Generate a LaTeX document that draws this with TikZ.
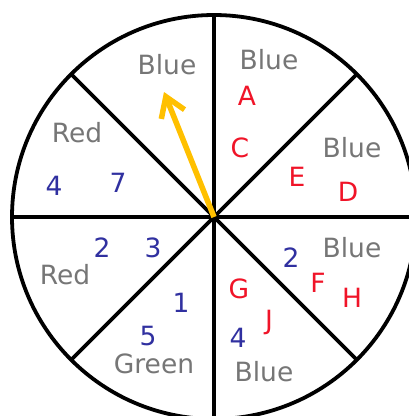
\documentclass[tikz,border=0pt]{standalone}
\usepackage{fontspec}
\setmainfont{DejaVu Sans}
\usetikzlibrary{arrows.meta}
\definecolor{lblgray}{RGB}{118,118,118}
\definecolor{lblred}{RGB}{240,20,40}
\definecolor{lblblue}{RGB}{48,48,160}
\definecolor{arrowyellow}{RGB}{255,192,0}
\tikzset{
  wheelline/.style={line width=3.8pt, black},
  lbl/.style={inner sep=0pt, anchor=base, font=\fontsize{26.5}{26.5}\selectfont},
  colname/.style={lbl, text=lblgray},
  letter/.style={lbl, text=lblred},
  numb/.style={lbl, text=lblblue},
  pointer/.style={line width=5.5pt, arrowyellow, -{Straight Barb[length=19pt,width=25pt]}}
}
\begin{document}
\begin{tikzpicture}[x=1pt,y=-1pt]
\useasboundingbox (0,0) rectangle (409,416);
\clip (0,0) rectangle (409,416);
\fill[white] (0,0) rectangle (409,416);
\coordinate (c) at (214,217);
\coordinate (tip) at (164,92);
% wheel
\draw[wheelline] (c) circle[radius=202];
\foreach \a in {0,45,90,135,180,225,270,315}{
  \draw[wheelline] (c) -- ++(\a:202);
}
% pointer
\draw[pointer] (c) -- (tip);
% labels
\node[colname] (b1) at (167,74) {Blue};
\node[colname] (b2) at (269,69) {Blue};
\node[letter] (la) at (247,105) {A};
\node[letter] (lc) at (240,157) {C};
\node[colname] (b3) at (352,157) {Blue};
\node[letter] (le) at (297,186) {E};
\node[letter] (ld) at (348,201) {D};
\node[colname] (b4) at (352,257) {Blue};
\node[numb] (n2r) at (291,267) {2};
\node[letter] (lf) at (318,292) {F};
\node[letter] (lh) at (352,307) {H};
\node[letter] (lg) at (239,298) {G};
\node[letter] (lj) at (269,329) {J};
\node[numb] (n4b) at (238,347) {4};
\node[colname] (b5) at (264,381) {Blue};
\node[colname] (gr) at (154,373) {Green};
\node[numb] (n5) at (148,345) {5};
\node[numb] (n1) at (181,312) {1};
\node[colname] (r1) at (65,284) {Red};
\node[numb] (n2l) at (102,257) {2};
\node[numb] (n3) at (153,257) {3};
\node[colname] (r2) at (77,142) {Red};
\node[numb] (n4l) at (54,195) {4};
\node[numb] (n7) at (118,192) {7};
\end{tikzpicture}
\end{document}
